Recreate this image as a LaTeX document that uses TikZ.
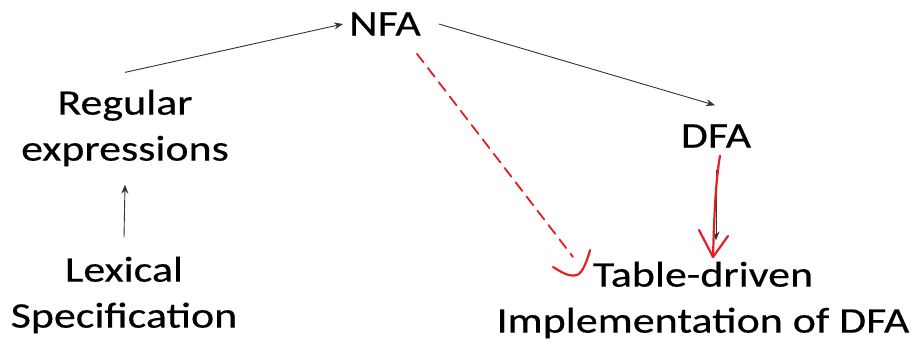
\documentclass[tikz,border=0pt]{standalone}
\usepackage{fontspec}
\setmainfont{Carlito}[FakeStretch=1.22,FakeBold=0.4]
\usetikzlibrary{arrows.meta}
\definecolor{penred}{RGB}{228,30,36}
\tikzset{
  stage/.style={align=center,inner sep=2pt,font=\fontsize{36}{46}\selectfont},
  flow/.style={->,black!80,line width=0.9pt},
  pen/.style={penred,line width=2.2pt,line cap=round,line join=round},
}
\begin{document}
\begin{tikzpicture}[x=1pt,y=-1pt,>={Stealth[length=9pt,width=7pt]}]
    \useasboundingbox (0,0) rectangle (921,350);

    \node[stage] (nfa) at (385,24) {NFA};
    \node[stage] (regex) at (125,128) {Regular\\expressions};
    \node[stage] (lexspec) at (124,295) {Lexical\\Specification};
    \node[stage] (dfa) at (716,136) {DFA};
    \node[stage] (table) at (703,300) {Table-driven\\Implementation of DFA};

    \coordinate (dashend) at (573,257);
    \coordinate (dfatip) at (713,257);

    \draw[flow] ([yshift=15pt]regex.north) -- ([xshift=-4pt]nfa.west);
    \draw[flow] ([xshift=16pt]nfa.east) -- ([shift={(-1pt,17pt)}]dfa.north);
    \draw[flow] ([yshift=17pt]lexspec.north) -- ([yshift=-16pt]regex.south);
    \draw[flow] ([yshift=-20pt]dfa.south) -- ([yshift=19pt]table.north -| dfa.south);

    % pen strokes on top
    \draw[pen,line width=1.8pt,dash pattern=on 11pt off 7pt]
        ([shift={(-6pt,-16pt)}]nfa.south east) -- (dashend);
    \draw[pen] (dashend) ++(-20,10)
        .. controls +(10,6) and +(-8,2) .. ++(24,8)
        .. controls +(6,-2) and +(-2,8) .. ++(13,-25);
    \draw[pen] ([shift={(4pt,-6pt)}]dfa.south)
        .. controls (715,185) and (714,225) .. (dfatip);
    \draw[pen] (dfatip) ++(-14,-27) -- (dfatip) -- ++(15,-21);
\end{tikzpicture}
\end{document}
